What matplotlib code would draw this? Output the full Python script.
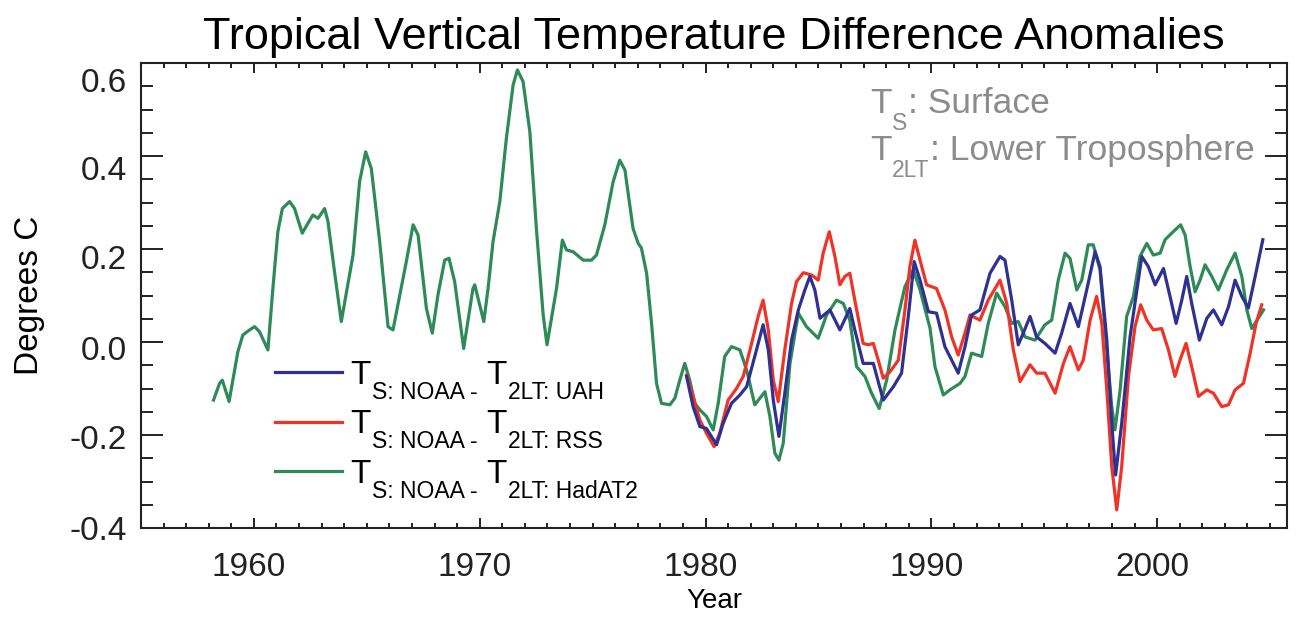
import matplotlib
matplotlib.use("Agg")
import matplotlib.pyplot as plt
from matplotlib.ticker import MultipleLocator, FormatStrFormatter
from matplotlib.lines import Line2D
from matplotlib.transforms import ScaledTranslation

# ======================
# DATA
# ======================
green_year = [1958.21, 1958.48, 1958.60, 1958.90, 1959.29, 1959.51, 1959.81, 1960.03, 1960.25, 1960.62,
              1960.84, 1961.06, 1961.26, 1961.58, 1961.80, 1962.14, 1962.39, 1962.61, 1962.84, 1963.13,
              1963.28, 1963.57, 1963.87, 1964.39, 1964.68, 1964.95, 1965.20, 1965.57, 1965.94, 1966.16,
              1966.75, 1967.05, 1967.27, 1967.64, 1967.90, 1968.15, 1968.45, 1968.64, 1968.89, 1969.29,
              1969.70, 1969.78, 1970.18, 1970.37, 1970.59, 1970.89, 1971.18, 1971.48, 1971.67, 1971.92,
              1972.22, 1972.51, 1972.81, 1972.98, 1973.40, 1973.66, 1973.84, 1974.14, 1974.58, 1974.95,
              1975.17, 1975.54, 1975.91, 1976.20, 1976.43, 1976.79, 1977.02, 1977.16, 1977.39, 1977.61,
              1977.83, 1978.05, 1978.42, 1978.64, 1978.86, 1979.08, 1979.30, 1979.53, 1979.75, 1980.04,
              1980.34, 1980.56, 1980.85, 1981.15, 1981.52, 1981.82, 1982.18, 1982.63, 1982.85, 1983.07,
              1983.25, 1983.44, 1983.74, 1984.11, 1984.47, 1984.99, 1985.36, 1985.80, 1986.10, 1986.39,
              1986.69, 1987.06, 1987.35, 1987.69, 1988.02, 1988.39, 1988.83, 1989.20, 1989.50, 1989.94,
              1990.16, 1990.53, 1990.82, 1991.27, 1991.49, 1991.78, 1992.23, 1992.52, 1992.89, 1993.26,
              1993.56, 1993.85, 1994.15, 1994.59, 1995.03, 1995.33, 1995.62, 1995.92, 1996.14, 1996.44,
              1996.66, 1996.95, 1997.17, 1997.47, 1997.77, 1997.99, 1998.13, 1998.36, 1998.65, 1998.95,
              1999.24, 1999.54, 1999.83, 2000.13, 2000.35, 2000.79, 2001.04, 2001.24, 2001.46, 2001.68,
              2001.90, 2002.12, 2002.42, 2002.71, 2003.08, 2003.45, 2003.75, 2003.97, 2004.19, 2004.71]
green_val = [-0.125, -0.089, -0.082, -0.128, -0.021, 0.015, 0.026, 0.033, 0.022, -0.017,
             0.115, 0.237, 0.287, 0.302, 0.287, 0.234, 0.255, 0.273, 0.266, 0.287,
             0.259, 0.151, 0.044, 0.187, 0.345, 0.409, 0.373, 0.216, 0.033, 0.026,
             0.173, 0.252, 0.230, 0.072, 0.019, 0.101, 0.176, 0.180, 0.130, -0.014,
             0.115, 0.123, 0.044, 0.115, 0.216, 0.302, 0.438, 0.553, 0.585, 0.560,
             0.452, 0.244, 0.058, -0.006, 0.115, 0.219, 0.198, 0.194, 0.176, 0.176,
             0.187, 0.252, 0.345, 0.391, 0.370, 0.244, 0.212, 0.202, 0.148, 0.040,
             -0.089, -0.132, -0.135, -0.121, -0.082, -0.046, -0.082, -0.132, -0.146, -0.160,
             -0.189, -0.132, -0.031, -0.010, -0.017, -0.060, -0.135, -0.107, -0.160, -0.239,
             -0.254, -0.218, -0.046, 0.062, 0.033, 0.008, 0.058, 0.090, 0.083, 0.047,
             -0.053, -0.074, -0.110, -0.143, -0.082, 0.026, 0.119, 0.155, 0.112, 0.030,
             -0.053, -0.114, -0.103, -0.089, -0.074, -0.024, -0.031, 0.040, 0.105, 0.076,
             0.040, 0.044, 0.011, 0.004, 0.037, 0.047, 0.133, 0.191, 0.180, 0.112,
             0.133, 0.209, 0.209, 0.155, -0.017, -0.139, -0.189, -0.103, 0.055, 0.098,
             0.184, 0.212, 0.187, 0.191, 0.220, 0.241, 0.252, 0.230, 0.162, 0.108,
             0.133, 0.166, 0.141, 0.112, 0.155, 0.191, 0.141, 0.069, 0.029, 0.069]

red_year = [1979.16, 1979.45, 1979.75, 1980.04, 1980.38, 1980.63, 1981.00, 1981.37, 1981.67, 1982.04,
            1982.33, 1982.55, 1982.78, 1983.00, 1983.22, 1983.51, 1983.81, 1984.03, 1984.33, 1984.70,
            1984.99, 1985.21, 1985.48, 1985.73, 1985.95, 1986.17, 1986.39, 1986.61, 1986.98, 1987.21,
            1987.43, 1987.65, 1987.87, 1988.17, 1988.54, 1988.83, 1989.05, 1989.27, 1989.50, 1989.79,
            1990.23, 1990.60, 1990.90, 1991.19, 1991.49, 1991.71, 1992.15, 1992.52, 1993.04, 1993.34,
            1993.63, 1993.93, 1994.37, 1994.66, 1995.03, 1995.48, 1995.85, 1996.14, 1996.51, 1996.73,
            1997.03, 1997.32, 1997.55, 1997.77, 1997.99, 1998.21, 1998.43, 1998.73, 1999.02, 1999.27,
            1999.54, 1999.83, 2000.20, 2000.50, 2000.79, 2001.01, 2001.28, 2001.53, 2001.83, 2002.20,
            2002.49, 2002.86, 2003.16, 2003.45, 2003.82, 2004.12, 2004.38, 2004.63]
red_val = [-0.071, -0.117, -0.168, -0.196, -0.225, -0.196, -0.125, -0.100, -0.074, -0.003,
           0.055, 0.090, 0.026, -0.082, -0.128, -0.017, 0.083, 0.130, 0.149, 0.144,
           0.133, 0.191, 0.237, 0.184, 0.123, 0.141, 0.148, 0.090, -0.003, -0.006,
           -0.003, -0.039, -0.078, -0.064, -0.039, 0.069, 0.162, 0.219, 0.176, 0.123,
           0.115, 0.069, 0.011, -0.028, 0.019, 0.058, 0.047, 0.090, 0.133, 0.083,
           -0.017, -0.085, -0.049, -0.067, -0.067, -0.110, -0.046, -0.010, -0.060, -0.039,
           0.047, 0.098, 0.040, -0.103, -0.268, -0.361, -0.268, -0.074, 0.033, 0.080,
           0.047, 0.026, 0.029, -0.017, -0.074, -0.039, -0.003, -0.053, -0.117, -0.103,
           -0.110, -0.139, -0.135, -0.103, -0.089, -0.024, 0.040, 0.080]

blue_year = [1979.16, 1979.45, 1979.75, 1980.04, 1980.49, 1980.78, 1981.15, 1981.52, 1981.82, 1982.18,
             1982.55, 1982.78, 1983.00, 1983.25, 1983.51, 1983.81, 1984.11, 1984.40, 1984.62, 1984.84,
             1985.07, 1985.51, 1985.95, 1986.39, 1986.61, 1986.98, 1987.43, 1987.87, 1988.32, 1988.68,
             1988.98, 1989.24, 1989.50, 1989.87, 1990.23, 1990.60, 1991.19, 1991.49, 1991.78, 1992.15,
             1992.60, 1993.04, 1993.26, 1993.56, 1993.85, 1994.07, 1994.37, 1994.66, 1995.03, 1995.48,
             1995.77, 1996.14, 1996.51, 1996.88, 1997.25, 1997.47, 1997.77, 1997.99, 1998.16, 1998.43,
             1998.80, 1999.32, 1999.61, 1999.91, 2000.28, 2000.57, 2000.84, 2001.09, 2001.31, 2001.53,
             2001.87, 2002.20, 2002.49, 2002.86, 2003.16, 2003.45, 2003.75, 2004.04, 2004.34, 2004.68]
blue_val = [-0.074, -0.139, -0.182, -0.186, -0.221, -0.175, -0.132, -0.114, -0.096, -0.031,
            0.037, -0.017, -0.125, -0.203, -0.110, 0.004, 0.069, 0.112, 0.141, 0.112,
            0.051, 0.069, 0.026, 0.072, 0.026, -0.046, -0.046, -0.125, -0.096, -0.067,
            0.055, 0.173, 0.133, 0.065, 0.062, -0.010, -0.067, -0.010, 0.058, 0.069,
            0.148, 0.184, 0.176, 0.090, -0.006, 0.019, 0.055, 0.011, -0.003, -0.024,
            0.019, 0.083, 0.033, 0.112, 0.194, 0.162, 0.004, -0.175, -0.286, -0.175,
            0.011, 0.184, 0.162, 0.123, 0.158, 0.098, 0.040, 0.090, 0.141, 0.083,
            0.004, 0.051, 0.069, 0.037, 0.076, 0.133, 0.098, 0.073, 0.141, 0.220]

sources = ["UAH", "RSS", "HadAT2"]

# ======================
# STYLE
# ======================
BLUE = "#2e3192"
RED = "#ef3326"
GREEN = "#2e8a57"
GREY = "#8c8c8c"
BIG = 24

plt.rcParams["font.family"] = ["Liberation Sans", "DejaVu Sans"]
plt.rcParams["axes.unicode_minus"] = False

fig = plt.figure(figsize=(12.98, 6.17), dpi=100)
ax = fig.add_axes([141 / 1298, 1 - 528 / 617, 1146 / 1298, 465 / 617])

ax.plot(green_year, green_val, color=GREEN, lw=2.3)
ax.plot(red_year, red_val, color=RED, lw=2.3)
ax.plot(blue_year, blue_val, color=BLUE, lw=2.3)

ax.set_xlim(1955, 2005.75)
ax.set_ylim(-0.4, 0.6)
ax.xaxis.set_major_locator(MultipleLocator(10))
ax.xaxis.set_minor_locator(MultipleLocator(1))
ax.yaxis.set_major_locator(MultipleLocator(0.2))
ax.yaxis.set_minor_locator(MultipleLocator(0.05))
ax.yaxis.set_major_formatter(FormatStrFormatter("%.1f"))

ax.tick_params(which="both", direction="in", top=True, right=True, colors="#222222")
ax.tick_params(axis="y", which="major", length=16, width=1.4, pad=10, labelsize=BIG)
ax.tick_params(axis="y", which="minor", length=8.5, width=1.4)
ax.tick_params(axis="x", which="major", length=7, width=1.4, pad=17, labelsize=BIG)
ax.tick_params(axis="x", which="minor", length=3.5, width=1.4)
for sp in ax.spines.values():
    sp.set_linewidth(1.5)
    sp.set_color("#222222")

ax.set_title("Tropical Vertical Temperature Difference Anomalies", fontsize=32.5, pad=10)
ax.set_xlabel("Year", fontsize=20, labelpad=4)
ax.set_ylabel("Degrees C", fontsize=BIG, labelpad=18)


def write_sub(start, pieces, color, big, small, drop):
    # chain text pieces after 'start'; sub pieces are smaller and lowered
    prev, prev_lvl, prev_size = start, 0.0, big
    for s, sub, gap in pieces:
        size = small if sub else big
        lvl = -drop if sub else 0.0
        dy = (lvl - prev_lvl) - 0.212 * size + 0.212 * prev_size
        prev = ax.annotate(s, xy=(1, 0), xycoords=prev, xytext=(gap, dy),
                           textcoords="offset points", fontsize=size, color=color,
                           va="bottom", ha="left", zorder=6, annotation_clip=False)
        prev_lvl, prev_size = lvl, size


# legend: line + big "T", then subscripts chained after it
handles = [Line2D([], [], color=c, lw=2.3) for c in (BLUE, RED, GREEN)]
leg = ax.legend(handles, ["T", "T", "T"], loc="upper left", bbox_to_anchor=(0.117, 0.362),
                frameon=False, fontsize=BIG, handlelength=2.0, handletextpad=0.25,
                labelspacing=0.56, borderpad=0, borderaxespad=0)
for t, src in zip(leg.get_texts(), sources):
    write_sub(t, [("S: NOAA -", True, 1), ("T", False, 6), ("2LT: " + src, True, 1)],
              "black", BIG, 16.5, 11)

# grey note top right
t1 = ax.text(0.636, 0.892, "T", transform=ax.transAxes, fontsize=25.5, color=GREY, va="baseline")
write_sub(t1, [("S", True, 0.5), (": Surface", False, 0.5)], GREY, 25.5, 16.5, 12.5)
t2 = ax.text(0.636, 0.791, "T", transform=ax.transAxes, fontsize=25.5, color=GREY, va="baseline")
write_sub(t2, [("2LT", True, 0.5), (": Lower Troposphere", False, 0.5)], GREY, 25.5, 16.5, 12.5)

# the reference's tick labels sit a little off their ticks; copy that
fig.canvas.draw()
ylab_drop = {0.6: 17, 0.4: 12, 0.2: 8, 0.0: 6, -0.2: 2, -0.4: 0}  # pixels
for tick in ax.yaxis.get_major_ticks():
    px = ylab_drop.get(round(tick.get_loc(), 1), 0)
    lbl = tick.label1
    lbl.set_transform(lbl.get_transform() + ScaledTranslation(0, -px / 100, fig.dpi_scale_trans))
for tick in ax.xaxis.get_major_ticks():
    lbl = tick.label1
    lbl.set_transform(lbl.get_transform() + ScaledTranslation(-5 / 100, 0, fig.dpi_scale_trans))

fig.savefig("out.png", dpi=100)
